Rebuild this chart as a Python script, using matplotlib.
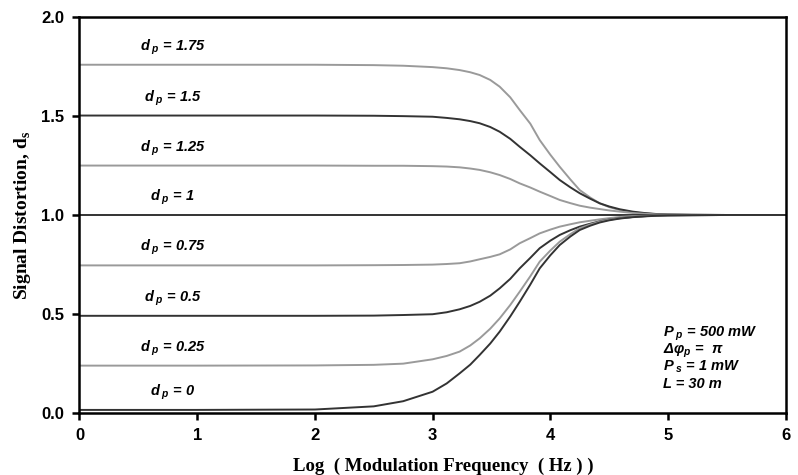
import matplotlib
matplotlib.use("Agg")
import matplotlib.pyplot as plt

plt.rcParams['mathtext.fontset'] = 'custom'
plt.rcParams['mathtext.rm'] = 'Liberation Serif:bold'
plt.rcParams['mathtext.it'] = 'Liberation Sans:bold:italic'
plt.rcParams['mathtext.bf'] = 'Liberation Sans:bold'

# Log(modulation frequency) sample positions
log_f = [0, 1, 2, 2.5, 2.75, 3.0, 3.12, 3.23, 3.32, 3.4, 3.49, 3.57, 3.66, 3.74, 3.83,
         3.91, 4.0, 4.08, 4.17, 4.25, 4.34, 4.42, 4.5, 4.59, 4.7, 4.8, 4.9, 5.0, 5.2, 5.5, 6.0]

dp_labels = ['1.75', '1.5', '1.25', '1', '0.75', '0.5', '0.25', '0']

ds_175 = [1.76, 1.76, 1.76, 1.758, 1.755, 1.748, 1.742, 1.733, 1.722, 1.708, 1.683, 1.649, 1.595, 1.531, 1.462,
          1.379, 1.305, 1.244, 1.180, 1.126, 1.088, 1.059, 1.040, 1.025, 1.014, 1.008, 1.004, 1.002, 1.001, 1.0, 1.0]
ds_150 = [1.503, 1.503, 1.503, 1.502, 1.500, 1.497, 1.491, 1.484, 1.475, 1.464, 1.445, 1.421, 1.385, 1.345, 1.302,
          1.261, 1.217, 1.177, 1.140, 1.110, 1.082, 1.059, 1.043, 1.029, 1.017, 1.010, 1.005, 1.003, 1.001, 1.0, 1.0]
ds_125 = [1.25, 1.25, 1.25, 1.249, 1.249, 1.247, 1.245, 1.241, 1.235, 1.228, 1.216, 1.202, 1.182, 1.160, 1.139,
          1.118, 1.096, 1.076, 1.060, 1.047, 1.037, 1.030, 1.023, 1.017, 1.010, 1.006, 1.003, 1.002, 1.001, 1.0, 1.0]
ds_100 = [1.0] * 31
ds_075 = [0.745, 0.745, 0.745, 0.746, 0.747, 0.749, 0.752, 0.756, 0.765, 0.776, 0.788, 0.801, 0.826, 0.857, 0.883,
          0.907, 0.926, 0.941, 0.953, 0.963, 0.971, 0.978, 0.984, 0.990, 0.994, 0.996, 0.998, 0.999, 1.0, 1.0, 1.0]
ds_050 = [0.49, 0.49, 0.49, 0.491, 0.494, 0.498, 0.508, 0.523, 0.540, 0.561, 0.592, 0.629, 0.677, 0.730, 0.783,
          0.832, 0.870, 0.899, 0.923, 0.941, 0.956, 0.968, 0.977, 0.984, 0.990, 0.994, 0.997, 0.998, 0.999, 1.0, 1.0]
ds_025 = [0.238, 0.238, 0.239, 0.242, 0.248, 0.270, 0.287, 0.309, 0.340, 0.376, 0.425, 0.477, 0.545, 0.612, 0.690,
          0.764, 0.820, 0.865, 0.903, 0.933, 0.952, 0.966, 0.976, 0.983, 0.990, 0.994, 0.997, 0.998, 0.999, 1.0, 1.0]
ds_000 = [0.014, 0.014, 0.016, 0.032, 0.058, 0.106, 0.148, 0.199, 0.243, 0.292, 0.350, 0.410, 0.487, 0.561, 0.648,
          0.730, 0.796, 0.848, 0.891, 0.924, 0.946, 0.962, 0.973, 0.982, 0.989, 0.993, 0.996, 0.998, 0.999, 1.0, 1.0]

series = [ds_175, ds_150, ds_125, ds_100, ds_075, ds_050, ds_025, ds_000]
colors = ['#9a9a9a', '#333333'] * 4

params = ['$P_{\\ p}$ = 500 mW', 'Δφ$_{p}$ =  π', '$P_{\\ s}$ = 1 mW', 'L = 30 m']

fig = plt.figure(figsize=(7.98, 4.75), dpi=100)
ax = fig.add_axes([0.0996, 0.1312, 0.885, 0.8324])

for vals, c, lab in zip(series, colors, dp_labels):
    ax.plot(log_f, vals, color=c, lw=1.4, solid_capstyle='round', solid_joinstyle='round')
    ax.text(0.79, vals[0] + 0.04, '$d_{\\ p}$ = ' + lab, ha='center', va='bottom',
            fontsize=10.5, family='Liberation Sans', fontweight='bold', fontstyle='italic')

for i, p in enumerate(params):
    ax.text(4.96, 0.40 - i * 0.085, p, ha='left', va='center', fontsize=10.5,
            family='Liberation Sans', fontweight='bold', fontstyle='italic')

ax.set_xlim(0, 6)
ax.set_ylim(0, 2)
ax.set_xticks(range(0, 7))
ax.set_yticks([0, 0.5, 1.0, 1.5, 2.0])
ax.set_yticklabels(['0.0', '0.5', '1.0', '1.5', '2.0'])
for s in ax.spines.values():
    s.set_linewidth(1.8)
ax.tick_params(direction='out', length=5, width=1.8, labelsize=12, pad=6)
for lbl in ax.get_xticklabels() + ax.get_yticklabels():
    lbl.set_fontfamily('Liberation Sans')
    lbl.set_fontweight('bold')

ax.set_xlabel('Log  ( Modulation Frequency  ( Hz ) )', family='Liberation Serif',
              fontweight='bold', fontsize=13.5, labelpad=8)
ax.xaxis.set_label_coords(0.515, -0.115)
ax.set_ylabel(r'Signal Distortion, d$_\mathrm{s}$', family='Liberation Serif',
              fontweight='bold', fontsize=14, labelpad=6)

fig.savefig('out.png', dpi=100)
